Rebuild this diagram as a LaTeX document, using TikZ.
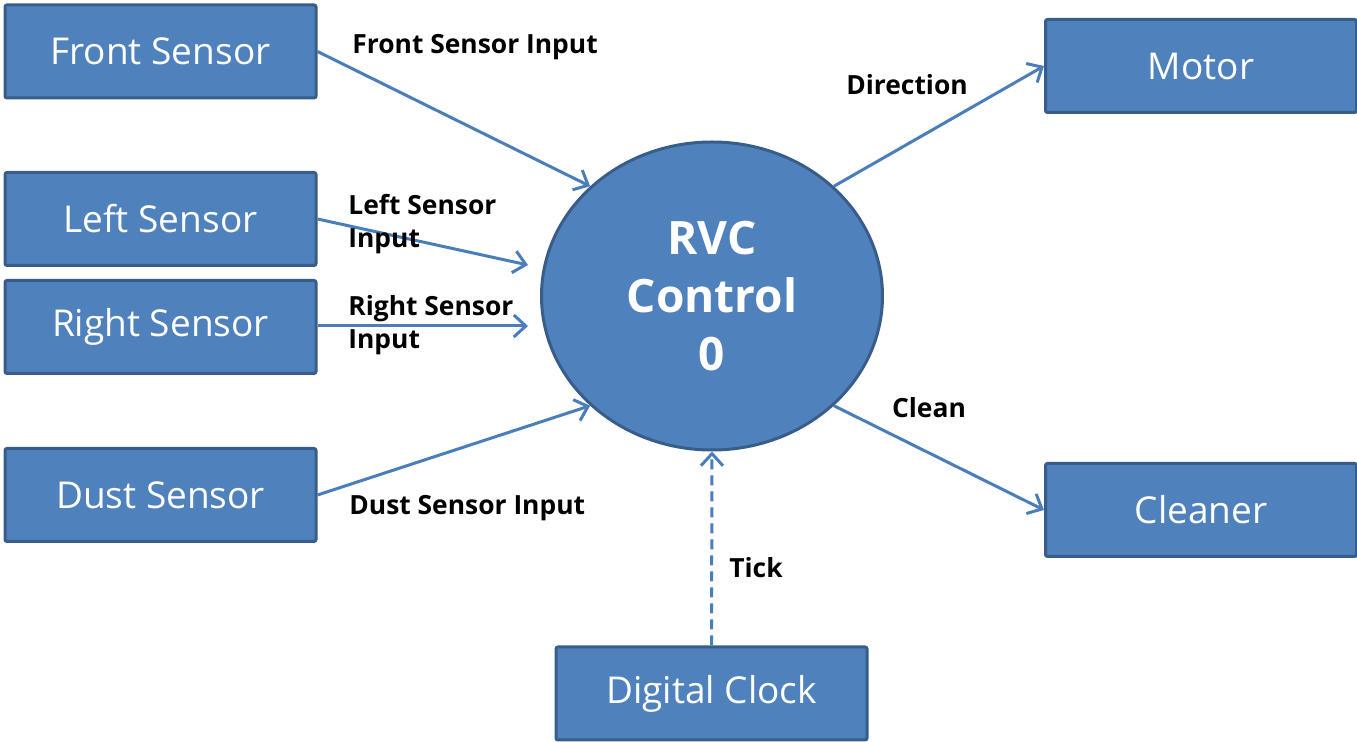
\documentclass[tikz,border=0pt]{standalone}
\usepackage{fontspec}
\setmainfont{Open Sans}
\usetikzlibrary{arrows.meta,shapes.geometric}
\definecolor{boxfill}{HTML}{4F81BD}
\definecolor{boxline}{HTML}{385D8A}
\definecolor{arrowc}{HTML}{4A7EBB}
\tikzset{
  ent/.style={draw=boxline, fill=boxfill, line width=1.5pt, rounded corners=1pt,
    minimum width=155.5pt, minimum height=46.5pt, text=white, font=\fontsize{18.5}{20}\selectfont, inner sep=0pt},
  proc/.style={ellipse, draw=boxline, fill=boxfill, line width=1.5pt,
    minimum width=170.5pt, minimum height=154pt, text=white, align=center, inner sep=0pt,
    font=\fontsize{23}{29}\selectfont\bfseries},
  flow/.style={draw=arrowc, line width=1.5pt, -{Straight Barb[length=6pt,width=11pt,line width=1.5pt]}},
  lbl/.style={font=\fontsize{13.2}{16.5}\selectfont\bfseries, text=black, inner sep=0pt, align=left}
}
\begin{document}
\begin{tikzpicture}[x=0.5pt,y=-0.5pt]
\useasboundingbox (0,0) rectangle (1357,742);
\node[ent] (front) at (160.5,51.5) {Front Sensor};
\node[ent] (left) at (160.5,219) {Left Sensor};
\node[ent] (right) at (160.5,327) {Right Sensor};
\node[ent] (dust) at (160.5,495) {Dust Sensor};
\node[ent] (motor) at (1201,66) {Motor};
\node[ent] (cleaner) at (1201,510) {Cleaner};
\node[ent] (clock) at (711.5,693.5) {Digital Clock};
\node[proc] (rvc) at (712,296) {RVC\\Control\\0};
\coordinate (lin) at (528,265);
\coordinate (rin) at (528,326);
\draw[flow] (front.east) -- (rvc.138);
\draw[flow] (left.east) -- (lin);
\draw[flow] (right.east |- rin) -- (rin);
\draw[flow] (dust.east) -- (rvc.222);
\draw[flow] (rvc.42) -- (motor.west);
\draw[flow] (rvc.-42) -- (cleaner.west);
\draw[flow, dashed, dash pattern=on 5pt off 3pt] (clock.north) -- (rvc.south);
\node[lbl, anchor=west] (l1) at (352,47) {Front Sensor Input};
\node[lbl] (l2) at (907,85) {Direction};
\node[lbl, anchor=west] (l3) at (348,224) {Left Sensor\\Input};
\node[lbl, anchor=west] (l4) at (348,325) {Right Sensor\\Input};
\node[lbl] (l5) at (929,408) {Clean};
\node[lbl, anchor=west] (l6) at (349,508) {Dust Sensor Input};
\node[lbl, anchor=west] (l7) at (729,568) {Tick};
\end{tikzpicture}
\end{document}
